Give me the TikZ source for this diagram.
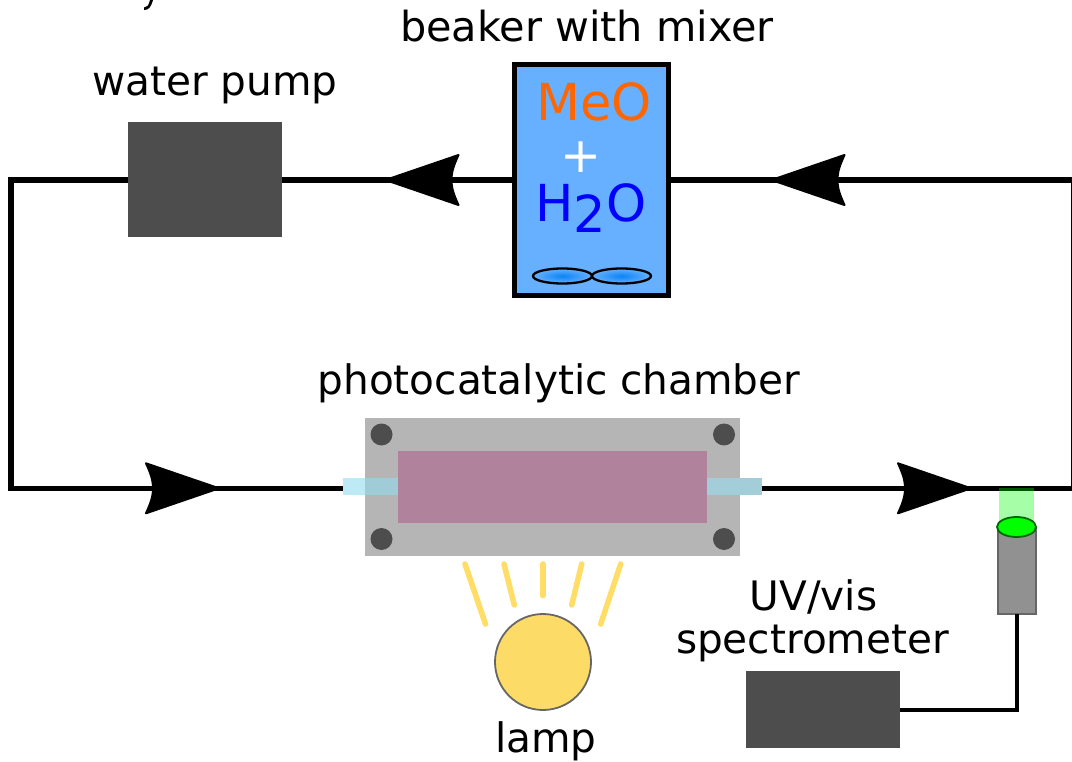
\documentclass[tikz,border=0pt]{standalone}
\usepackage{fontspec}
\setmainfont{DejaVu Sans}
\usetikzlibrary{shapes.geometric}
\definecolor{darkbox}{HTML}{4D4D4D}
\definecolor{beakerblue}{HTML}{66B0FF}
\definecolor{mixblue}{HTML}{0A84F5}
\definecolor{plategray}{HTML}{B5B5B5}
\definecolor{mauve}{HTML}{B0829B}
\definecolor{tubeA}{HTML}{93DCEE}
\definecolor{tubeB}{HTML}{A3CDD9}
\definecolor{lampy}{HTML}{FCDC66}
\definecolor{rayy}{HTML}{FFDD66}
\definecolor{rimgray}{HTML}{666666}
\definecolor{cylgray}{HTML}{919191}
\definecolor{meo}{HTML}{FF6600}
\tikzset{
  x=1pt,y=-1pt,
  every node/.style={inner sep=0pt,outer sep=0pt},
  box/.style={rectangle,draw=none,fill=darkbox},
  label text/.style={font=\fontsize{40.6}{46}\selectfont,text=black,anchor=base,align=center},
  pipe/.style={line width=5.3pt,draw=black,line join=miter},
  sigwire/.style={line width=4pt,draw=black},
  bolt/.style={circle,fill=darkbox,minimum size=22pt},
  ray/.style={line width=5.6pt,draw=rayy,line cap=round},
  tubeend/.style={rectangle,minimum width=55pt,minimum height=17pt},
  chem/.style={font=\fontsize{51}{56}\selectfont,anchor=base},
  blade/.style={ellipse,draw=black,line width=2.3pt,inner color=mixblue,outer color=beakerblue,minimum width=59pt,minimum height=15pt},
  head/.style={fill=black,draw=black,line width=2pt,line join=round},
  pics/headleft/.style={code={\path[head] (-40,0) -- (33,-25) .. controls (28,-14) and (26,-8) .. (26,0) .. controls (26,8) and (28,14) .. (33,25) -- cycle;}},
  pics/headright/.style={code={\path[head] (40,0) -- (-33,-25) .. controls (-28,-14) and (-26,-8) .. (-26,0) .. controls (-26,8) and (-28,14) .. (-33,25) -- cycle;}},
}
\begin{document}
\begin{tikzpicture}
\useasboundingbox (0,0) rectangle (1072,762);
% clipped ink at the top edge
\fill[black] (144,10) -- (144,7.5) .. controls (147,7.5) and (148.5,6) .. (150,0) -- (153,0) .. controls (151,7) and (149,10) .. (144,10) -- cycle;

% anchor points of the loop
\coordinate (cTL) at (11,180);
\coordinate (cBL) at (11,488.3);
\coordinate (cTR) at (1074,180);
\coordinate (cBR) at (1074,488.3);
\coordinate (tubeL) at (343,488.3);
\coordinate (tubeR) at (762,488.3);

% devices
\node[box,minimum width=154pt,minimum height=115pt] (pump) at (205,180) {};
\node[rectangle,draw=black,line width=5.6pt,fill=beakerblue,minimum width=154pt,minimum height=231pt] (beaker) at (591.5,180) {};
\node[rectangle,fill=plategray,minimum width=375pt,minimum height=138pt] (plate) at (552.5,487) {};

% pipework
\draw[pipe] (beaker.west) -- (pump.east);
\draw[pipe] (pump.west) -- (cTL) -- (cBL) -- (tubeL);
\draw[pipe] (tubeR) -- (cBR) -- (cTR) -- (beaker.east);

% arrowheads
\pic at (425.5,180) {headleft};
\pic at (811.5,180) {headleft};
\pic at (179,488.3) {headright};
\pic at (931,488.3) {headright};

% chamber detail
\node[rectangle,fill=mauve,minimum width=309pt,minimum height=72pt] (cell) at (552.5,487) {};
\node[tubeend,fill=tubeA,fill opacity=.61] (inL) at (370.5,486.8) {};
\node[tubeend,fill=tubeB] (inR) at (734.5,486.8) {};
\node[bolt] (b1) at (381.5,434.5) {};
\node[bolt] (b2) at (724,434.5) {};
\node[bolt] (b3) at (381.5,539) {};
\node[bolt] (b4) at (724,539) {};

% lamp
\node[circle,fill=lampy,draw=rimgray,line width=1.8pt,minimum size=96pt] (lamp) at (543,662) {};
\draw[ray] (465,564) -- (485.5,624);
\draw[ray] (504,564) -- (514.3,605);
\draw[ray] (542.7,564) -- (542.7,595.7);
\draw[ray] (581.7,564) -- (571.7,605);
\draw[ray] (620.7,564) -- (600.7,624);

% probe
\fill[green,fill opacity=.35] (999,488) rectangle (1034,527);
\node[rectangle,fill=cylgray,draw=rimgray,line width=2pt,minimum width=38pt,minimum height=86pt] (probe) at (1016.5,570.5) {};
\node[ellipse,fill=green,draw=black!60!green,line width=1.8pt,minimum width=39pt,minimum height=20pt] (lens) at (1016.5,527) {};
\node[box,minimum width=154pt,minimum height=77pt] (spec) at (823,709.5) {};
\coordinate (cWire) at (1016.5,709.5);
\draw[sigwire] (spec.east) -- (cWire) -- (probe.south);

% beaker contents
\node[chem,text=meo] (meotext) at (594,121) {MeO};
\node[font=\fontsize{49}{56}\selectfont,text=white,anchor=base] (plus) at (581.5,173) {+};
\node[chem,text=blue] (water) at (591,222) {H\raisebox{-.2em}{2}O};
\node[blade] (bladeL) at (562.5,276) {};
\node[blade] (bladeR) at (621.5,276) {};

% labels
\node[label text,font=\fontsize{41.4}{46}\selectfont] (lbBeaker) at (587,42) {beaker with mixer};
\node[label text] (lbPump) at (215,95.5) {water pump};
\node[label text] (lbChamber) at (559,394) {photocatalytic chamber};
\node[label text] (lbUV) at (813.5,610) {UV/vis};
\node[label text] (lbSpec) at (812.5,653) {spectrometer};
\node[label text] (lbLamp) at (546,752) {lamp};
\end{tikzpicture}
\end{document}
